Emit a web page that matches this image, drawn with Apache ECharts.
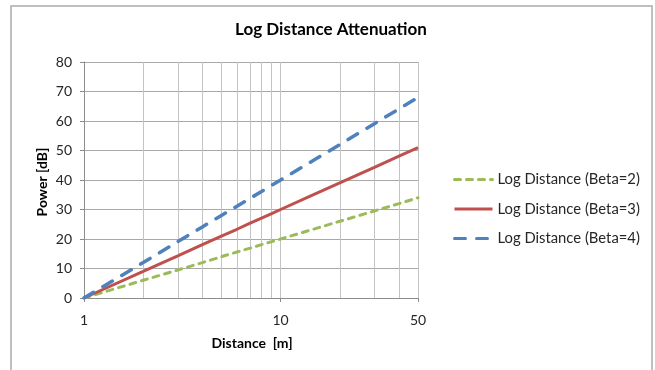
<!DOCTYPE html>
<html>
<head>
<meta charset="utf-8">
<script src="https://cdn.jsdelivr.net/npm/echarts@6/dist/echarts.min.js"></script>
<style>
html,body{margin:0;padding:0;background:#fff;}
#chart{width:655px;height:370px;}
</style>
</head>
<body>
<div id="chart"></div>
<script>
var distances = [1, 2, 3, 4, 5, 6, 7, 8, 9, 10, 15, 20, 30, 40, 50];
var beta2 = [0, 6.0, 9.5, 12.0, 14.0, 15.6, 16.9, 18.1, 19.1, 20.0, 23.5, 26.0, 29.5, 32.0, 34.0];
var beta3 = [0, 9.0, 14.3, 18.1, 21.0, 23.3, 25.4, 27.1, 28.6, 30.0, 35.3, 39.0, 44.3, 48.1, 51.0];
var beta4 = [0, 12.0, 19.1, 24.1, 28.0, 31.1, 33.8, 36.1, 38.2, 40.0, 47.0, 52.0, 59.1, 64.1, 68.0];
var seriesNames = ['Log Distance (Beta=2)', 'Log Distance (Beta=3)', 'Log Distance (Beta=4)'];
var xTickLabels = [1, 10, 50];
var xGridValues = [2, 3, 4, 5, 6, 7, 8, 9, 10, 20, 30, 40, 50];
var yMin = 0, yMax = 80, yStep = 10;
var xMin = 1, xMax = 50;
var titleText = 'Log Distance Attenuation';
var xName = 'Distance  [m]';
var yName = 'Power [dB]';

function pairs(xs, ys) { return xs.map(function (x, i) { return [x, ys[i]]; }); }

var FONT = 'Lato, "Noto Sans", sans-serif';
var chart = echarts.init(document.getElementById('chart'), null, {renderer: 'canvas'});
chart.setOption({
  animation: false,
  backgroundColor: '#fff',
  textStyle: {fontFamily: FONT},
  grid: {left: 84, right: 237, top: 62, bottom: 72, containLabel: false},
  graphic: [
    {type: 'rect', shape: {x: 11, y: 6, width: 641, height: 400}, style: {fill: 'none', stroke: '#ABABAB', lineWidth: 1.5}, z: -10, silent: true},
    {type: 'text', x: 331, y: 30, style: {text: titleText, font: 'bold 17px ' + FONT, fill: '#000', align: 'center', verticalAlign: 'middle'}},
    {type: 'text', x: 252, y: 343, style: {text: xName, font: 'bold 14px ' + FONT, fill: '#000', align: 'center', verticalAlign: 'middle'}},
    {type: 'text', x: 42, y: 182, rotation: Math.PI / 2, style: {text: yName, font: 'bold 14px ' + FONT, fill: '#000', align: 'center', verticalAlign: 'middle'}}
  ],
  legend: {
    orient: 'vertical', left: 453, top: 172, padding: 0, itemWidth: 38, itemHeight: 14, itemGap: 14.5,
    data: seriesNames,
    textStyle: {fontSize: 14.8, color: '#262626', fontFamily: FONT, lineHeight: 14},
    lineStyle: {width: 3},
    itemStyle: {opacity: 0, color: 'rgba(0,0,0,0)', borderWidth: 0}
  },
  xAxis: {
    type: 'log', logBase: 10, min: xMin, max: xMax,
    axisLine: {show: true, lineStyle: {color: '#8C8C8C', width: 1}},
    axisTick: {show: true, length: 4, inside: false, customValues: xTickLabels, lineStyle: {color: '#8C8C8C'}},
    axisLabel: {customValues: xTickLabels, fontSize: 14, color: '#262626', margin: 15, showMinLabel: true, showMaxLabel: true},
    splitLine: {show: false},
    minorTick: {show: false},
    minorSplitLine: {show: false}
  },
  yAxis: {
    type: 'value', min: yMin, max: yMax, interval: yStep,
    axisLine: {show: true, lineStyle: {color: '#8C8C8C', width: 1}},
    axisTick: {show: true, length: 4, inside: false, lineStyle: {color: '#8C8C8C'}},
    axisLabel: {fontSize: 14, color: '#262626', margin: 12},
    splitLine: {show: true, lineStyle: {color: '#A8A8A8', width: 1}}
  },
  series: [
    {
      name: seriesNames[0], type: 'line', data: pairs(distances, beta2), symbol: 'none', z: 3,
      lineStyle: {color: '#9BBB59', width: 3, type: [6, 6], cap: 'round'}, itemStyle: {color: '#9BBB59'},
      markLine: {
        silent: true, symbol: ['none', 'none'], z: 1, animation: false,
        label: {show: false}, emphasis: {disabled: true},
        lineStyle: {color: '#C4C4C4', width: 1, type: 'solid'},
        data: xGridValues.map(function (v) { return {xAxis: v}; })
      }
    },
    {
      name: seriesNames[1], type: 'line', data: pairs(distances, beta3), symbol: 'none', z: 3,
      lineStyle: {color: '#C0504D', width: 3}, itemStyle: {color: '#C0504D'}
    },
    {
      name: seriesNames[2], type: 'line', data: pairs(distances, beta4), symbol: 'none', z: 3,
      lineStyle: {color: '#4F81BD', width: 3.5, type: [11, 11], cap: 'round'}, itemStyle: {color: '#4F81BD'}
    }
  ]
});
</script>
</body>
</html>
